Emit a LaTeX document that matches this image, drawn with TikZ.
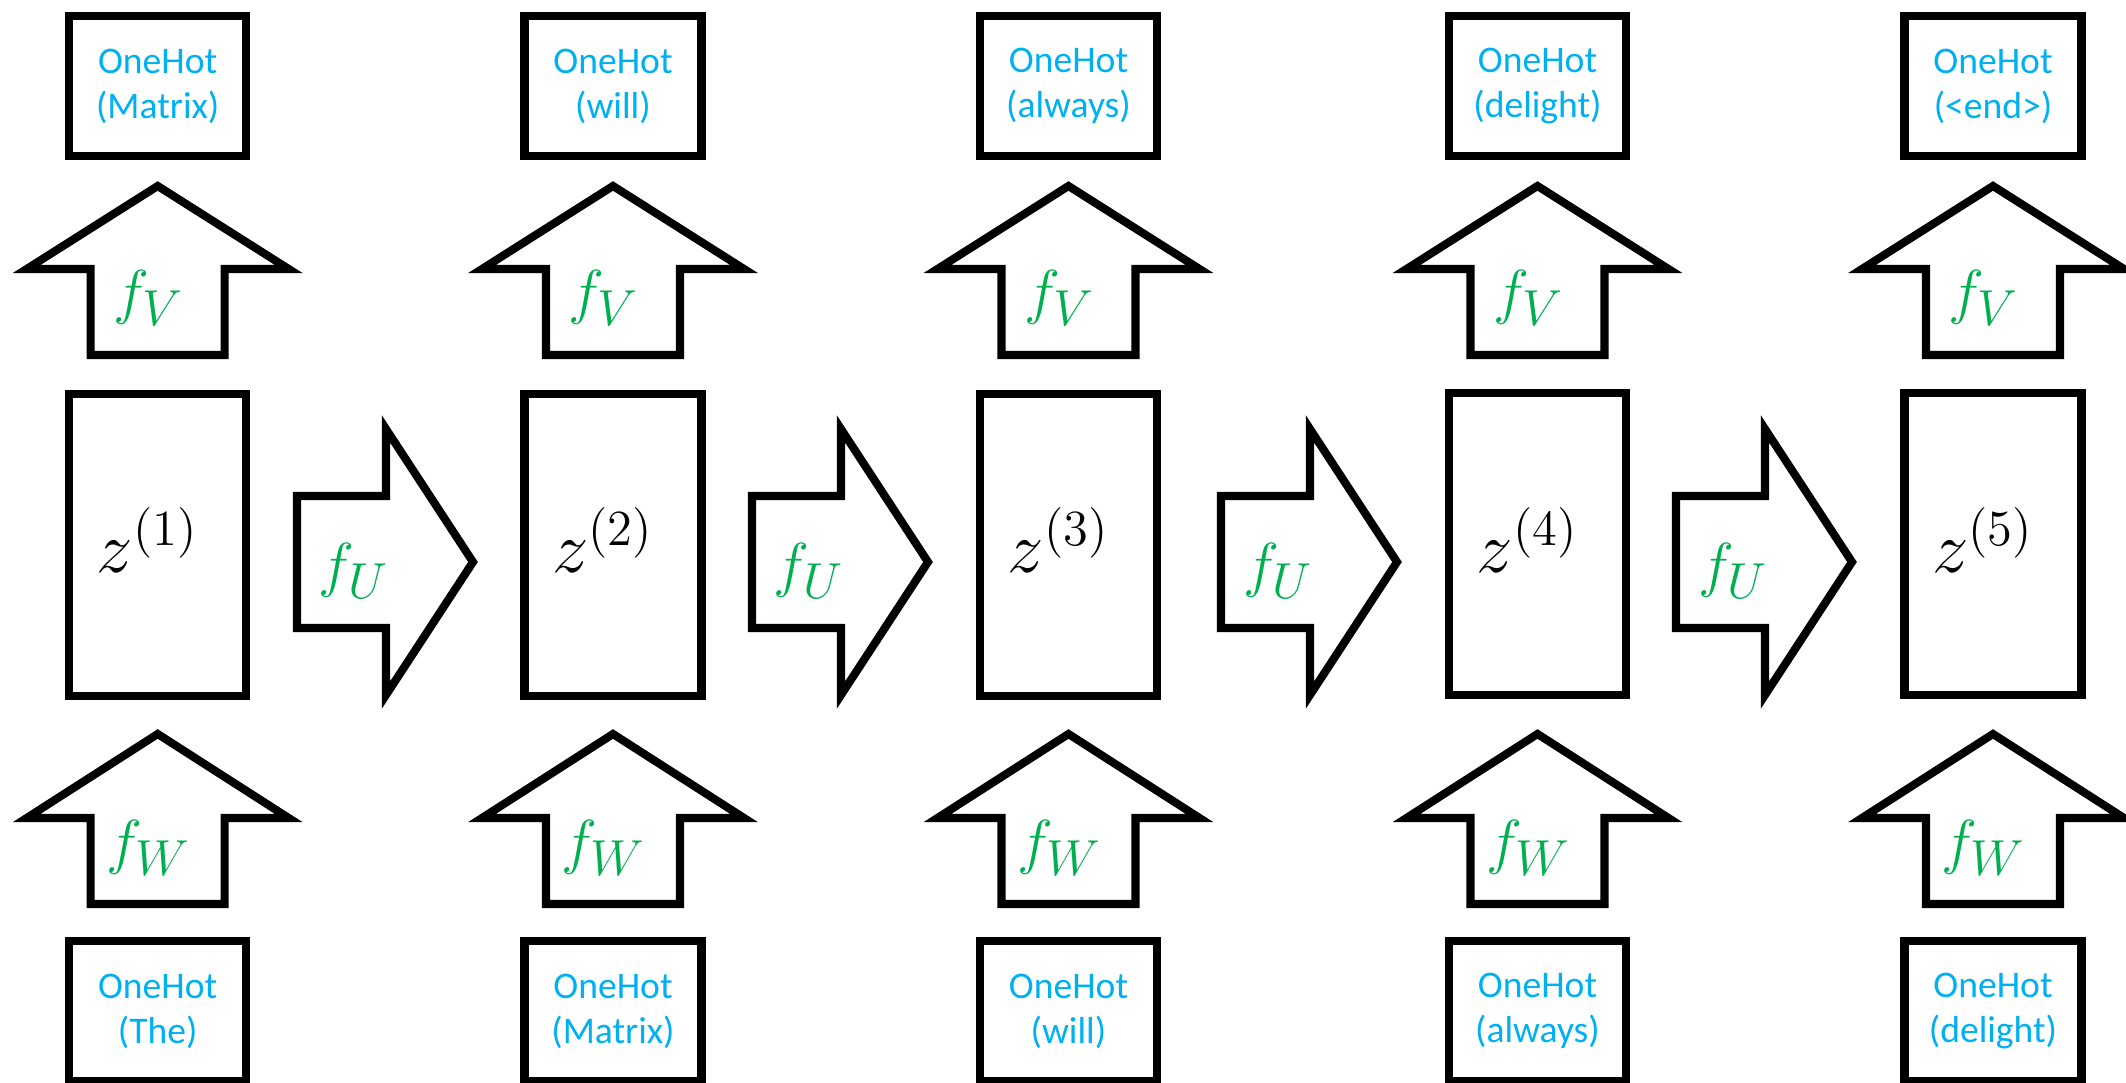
\documentclass[tikz,border=0pt]{standalone}
\usepackage{amsmath}
\usepackage{fontspec}
\usepackage{tikz}
\usetikzlibrary{positioning}
\newfontfamily\tokenfont{Carlito}
\definecolor{TokenBlue}{RGB}{0,176,240}
\definecolor{MapGreen}{RGB}{0,176,80}

\begin{document}
\begin{tikzpicture}[
  token/.style={
    draw,
    line width=2.3pt,
    minimum width=1.77cm,
    minimum height=1.40cm,
    inner sep=0pt,
    align=center,
    text=TokenBlue,
    font=\tokenfont\fontsize{10.7}{12.8}\selectfont
  },
  state/.style={draw, line width=2.3pt, minimum width=1.77cm, minimum height=3.02cm, inner sep=0pt},
  blockarrow/.style={draw, line width=2.3pt, line join=miter, fill=white},
  fname/.style={text=MapGreen, font=\fontsize{19}{22}\selectfont, inner sep=0pt},
  zname/.style={font=\fontsize{20}{24}\selectfont, inner sep=0pt}
]
\useasboundingbox (0,0) rectangle (21.26,-10.83);
\def\XA{1.577}
\def\XB{6.13}
\def\XC{10.685}
\def\XD{15.375}
\def\XE{19.93}
\node[token] (out1) at (\XA,-0.86) {OneHot\\(Matrix)};
\node[token] (out2) at (\XB,-0.86) {OneHot\\(will)};
\node[token] (out3) at (\XC,-0.86) {OneHot\\(always)};
\node[token] (out4) at (\XD,-0.86) {OneHot\\(delight)};
\node[token] (out5) at (\XE,-0.86) {OneHot\\(<end>)};
\node[state] (z1) at (\XA,-5.45) {};
\node[state] (z2) at (\XB,-5.45) {};
\node[state] (z3) at (\XC,-5.45) {};
\node[state] (z4) at (\XD,-5.44) {};
\node[state] (z5) at (\XE,-5.44) {};
\node[token] (in1) at (\XA,-10.11) {OneHot\\(The)};
\node[token] (in2) at (\XB,-10.11) {OneHot\\(Matrix)};
\node[token] (in3) at (\XC,-10.11) {OneHot\\(will)};
\node[token] (in4) at (\XD,-10.11) {OneHot\\(always)};
\node[token] (in5) at (\XE,-10.11) {OneHot\\(delight)};
\foreach \x/\i in {\XA/1,\XB/2,\XC/3,\XD/4,\XE/5} {
  \draw[blockarrow, shift={(\x,-2.69)}] (0,0.83) -- (1.31,0) -- (0.67,0) --
    (0.67,-0.86) -- (-0.67,-0.86) -- (-0.67,0) -- (-1.31,0) -- cycle;
  \node[fname] (fv\i) at (\x-0.09,-2.98) {$f_V$};
  \draw[blockarrow, shift={(\x,-8.18)}] (0,0.84) -- (1.31,0) -- (0.67,0) --
    (0.67,-0.86) -- (-0.67,-0.86) -- (-0.67,0) -- (-1.31,0) -- cycle;
  \node[fname] (fw\i) at (\x-0.09,-8.48) {$f_W$};
  \node[zname] (zl\i) at (\x-0.10,-5.40) {$z^{(\i)}$};
}
\foreach \ax/\i in {3.855/1,8.405/2,13.095/3,17.645/4} {
  \draw[blockarrow, shift={(\ax,-5.62)}] (-0.885,0.66) -- (0.005,0.66) -- (0.005,1.33) --
    (0.875,0) -- (0.005,-1.33) -- (0.005,-0.66) -- (-0.885,-0.66) -- cycle;
  \node[fname] (fu\i) at (\ax-0.315,-5.71) {$f_U$};
}
\end{tikzpicture}
\end{document}
